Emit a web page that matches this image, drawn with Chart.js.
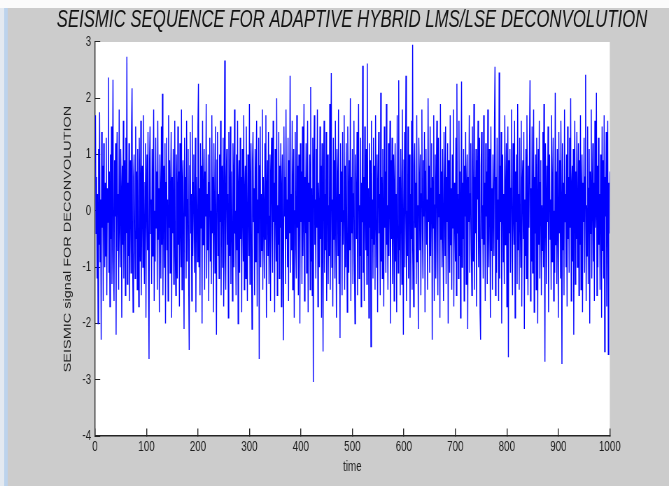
<!DOCTYPE html>
<html>
<head>
<meta charset="utf-8">
<script src="https://cdn.jsdelivr.net/npm/chart.js@4/dist/chart.umd.min.js"></script>
<style>
  html, body { margin: 0; padding: 0; background: #cccccc; overflow: hidden; }
  canvas { display: block; }
</style>
</head>
<body>
<!-- o canvas e desenhado mais largo e comprimido na horizontal (letras estreitas) -->
<canvas id="sismo" width="956" height="486" style="width:669px;height:486px"></canvas>
<script>
const titulo = 'SEISMIC SEQUENCE FOR ADAPTIVE HYBRID LMS/LSE DECONVOLUTION';
const rotuloX = 'time';
const rotuloY = 'SEISMIC signal FOR DECONVOLUTION';

const ticksX = [0, 100, 200, 300, 400, 500, 600, 700, 800, 900, 1000];
const ticksY = [3, 2, 1, 0, -1, -2, -3, -4];

// amostras 1..1000 do sinal sismico
const sinal = [
  1.7, -0.4, 0.6, -1.2, 0.3, -2.0, 1.1, -0.6, 1.75, -0.9, 0.2, -2.29, 1.4, -0.3, 0.8, -1.6, 1.2, 0.1, -1.0, 0.5,
  -0.8, 1.3, -1.5, 0.4, -0.2, 2.37, -1.1, 0.7, -1.7, 1.0, -0.5, 1.5, -1.3, 0.2, 2.33, -0.9, -1.6, 0.9, -0.1, 1.2,
  -2.2, 0.6, 1.4, -0.7, 0.3, -1.4, 1.8, -0.2, -1.0, 1.1, 0.4, -1.9, 0.8, -0.6, 1.6, -1.2, 0.1, 0.9, -1.5, 1.3,
  -0.4, 2.74, -1.3, 0.5, -0.8, 1.2, -1.6, 0.3, 0.9, -1.1, 1.4, 2.18, -0.7, -1.8, 0.6, 1.0, -0.3, -1.2, 1.5, -0.5,
  0.7, -1.4, 1.1, -0.2, -1.7, 1.3, 0.4, -0.9, 1.6, -1.5, 0.2, 0.8, -1.0, 1.7, -0.6, -1.3, 0.5, 1.2, -1.9, 0.3,
  1.0, -0.7, 1.4, -1.1, -2.63, 0.9, 1.5, -0.4, 0.2, -1.3, 1.1, -0.8, 0.6, 1.8, -1.6, 0.0, -0.9, 1.3, -0.3, 0.7,
  -1.4, 1.6, -0.5, 0.4, -1.8, 1.0, 0.3, -1.2, 1.5, -0.6, 2.08, -1.5, 0.1, 0.8, -1.0, 1.2, -2.0, 0.5, 1.3, -0.7,
  0.2, -1.6, 1.7, -0.3, 0.9, -1.1, 0.4, 1.4, -1.9, 0.6, -0.4, 1.1, -1.3, 0.0, 1.6, -0.8, -1.5, 1.0, 0.3, -1.2,
  1.5, -0.6, 0.7, -1.7, 1.2, -0.2, -1.0, 1.8, -1.4, 0.5, 0.9, -0.5, -2.1, 1.3, -0.1, 0.6, -1.2, 1.6, -0.9, 0.2,
  1.1, -1.3, -2.47, 0.8, 1.4, -0.4, 0.3, -1.6, 1.7, -0.8, 0.5, 1.0, -1.1, -0.2, 1.3, -1.8, 0.6, 0.1, -0.9, 1.5,
  2.26, -1.0, 0.4, -1.5, 1.2, -0.3, 0.8, -2.0, 1.6, -0.6, 0.2, 1.1, -1.4, 0.7, -0.1, 1.9, -1.2, 0.3, -0.7, 1.0,
  -1.6, 0.5, 1.3, -0.9, 0.0, -1.3, 1.7, -0.4, 0.6, -1.8, 1.2, 0.2, -1.1, 1.5, -0.5, -2.2, 0.9, 1.4, -0.8, 0.3,
  -1.2, 1.0, -0.2, 1.6, -1.5, 0.4, 0.8, -1.0, 1.3, -1.7, 0.1, 2.67, -0.9, -1.4, 0.6, 1.1, -0.6, 0.3, -1.9, 1.4,
  0.2, -0.8, 1.5, -1.3, 0.7, -0.1, -1.6, 1.2, 0.5, -1.0, 1.8, -0.4, 0.0, -1.5, 1.0, -0.7, 1.6, -2.0, 0.4, 0.9,
  -1.1, 1.3, -0.5, 0.6, -1.8, 1.1, 0.2, -0.9, 1.7, -1.4, 0.3, 0.8, -1.2, 1.5, -0.3, -1.6, 1.0, 0.1, -0.8, 1.9,
  -1.3, 0.5, 1.2, -0.6, -2.1, 0.9, 1.4, -0.2, 0.4, -1.5, 1.1, -0.9, 0.7, 1.6, -1.7, 0.2, -0.4, 1.3, -2.63, 0.8,
  1.5, -1.0, 0.3, -0.7, 1.8, -1.4, 0.6, 0.0, -1.2, 1.2, -0.5, 1.7, -1.9, 0.4, 0.9, -0.8, 1.4, -1.3, -0.1, 1.0,
  -1.6, 0.7, 1.3, -0.4, -1.1, 1.6, -0.2, 0.5, -1.8, 1.1, 0.3, -0.9, 2.0, -1.5, 0.1, -0.6, 1.4, -1.2, 0.8, -0.3,
  1.2, -1.7, 0.4, 1.0, -0.8, -2.3, 1.5, -0.1, 0.6, -1.3, 1.8, -0.5, 0.2, -1.0, 1.3, -1.6, 0.9, -0.4, 2.4, -1.1,
  0.3, -0.7, 1.6, -1.4, 0.5, 1.1, -1.9, 0.0, 1.4, -0.6, -1.2, 1.7, -0.3, 0.8, -1.5, 1.0, 0.4, -2.0, 1.2, -0.2,
  0.7, -1.3, 1.5, -0.8, 0.1, 1.9, -1.6, 0.6, -0.4, 1.2, -1.1, 0.3, 1.6, -1.8, 0.5, -0.2, 1.0, -1.4, 2.2, -0.9,
  0.4, -1.5, 1.3, -3.04, 0.9, 1.7, -0.6, 0.2, -1.2, 1.1, -0.3, 1.8, -1.7, 0.5, 0.0, -1.0, 1.5, -0.5, 0.8, -1.9,
  1.2, -0.4, -2.5, 0.7, 1.6, -1.1, 0.3, -0.7, 1.4, -1.6, 0.6, 1.0, -1.3, 0.1, -0.8, 1.9, -1.4, 0.4, 2.45, -1.0,
  0.2, -1.7, 1.3, -0.5, 0.9, -1.2, 1.6, -0.1, -1.9, 1.1, 0.5, -0.8, 1.8, -1.3, 0.3, -2.26, 1.2, -0.2, 0.7, -1.5,
  1.4, -0.6, 0.0, 1.7, -1.4, 0.8, -1.0, 1.2, -0.3, -1.8, 1.5, 0.4, -1.1, 0.9, -0.7, 2.0, -1.6, 0.6, -0.4, 1.1,
  -1.3, 0.3, 1.6, -0.9, -2.0, 1.0, 0.2, -0.5, 1.4, -1.5, 0.7, 1.9, -1.2, 0.1, -0.8, 1.3, -1.7, 0.5, -0.2, 2.58,
  -1.1, 0.6, -1.6, 1.5, 0.0, -0.7, 1.1, -1.3, 2.62, -0.8, 0.4, -1.9, 1.2, -0.3, 0.9, -2.41, 1.6, -0.5, 0.2, -1.2,
  1.3, -0.6, 0.8, -1.4, 1.7, -0.1, -1.0, 1.0, -1.8, 0.5, 1.4, -0.4, 0.3, -1.5, 2.1, -0.9, 0.6, -1.2, 1.1, -0.2,
  -1.7, 1.5, -0.3, 0.7, -1.1, 1.9, -0.6, 0.1, -1.4, 1.2, -0.8, 0.4, 1.6, -2.0, 0.9, -0.5, 1.3, -1.3, 0.0, 1.0,
  -1.6, 0.5, 1.2, -0.9, 0.3, -1.8, 1.7, -0.2, -1.1, 2.32, -0.7, 0.6, -1.5, 1.1, 0.2, -1.3, 1.8, -0.4, -2.2, 0.9,
  1.4, -1.0, 0.4, 2.4, -1.6, 0.0, -0.8, 1.5, -1.2, 0.7, 1.0, -1.9, 0.3, -0.5, 1.6, -1.4, 2.95, -0.6, -1.7, 0.8,
  1.2, -0.3, 0.5, -1.3, 1.7, -0.9, 0.1, -2.1, 1.3, 0.6, -0.7, 1.0, -1.5, 0.3, 1.8, -0.4, -1.2, 0.9, -0.1, 1.4,
  -1.8, 0.7, 1.1, -0.6, 0.2, -1.4, 2.0, -0.2, 0.8, -1.1, 1.5, -0.8, 0.4, 1.2, -2.29, 0.6, -0.3, 1.7, -1.6, 0.1,
  1.0, -1.2, 0.5, 1.6, -0.7, -1.5, 1.3, -0.1, 0.3, -1.9, 1.9, -0.5, 0.7, -1.0, 1.1, -0.4, -1.6, 1.4, 0.2, -0.8,
  1.5, -1.3, 0.6, -0.2, 1.2, -2.0, 0.9, 0.0, -1.1, 1.7, -0.6, 0.4, -1.4, 1.0, -0.3, 1.8, -1.7, 0.5, 0.1, -0.9,
  1.3, -1.5, 2.26, -0.4, 0.3, -1.2, 1.6, -0.8, 0.7, -1.9, 0.2, 2.3, -1.0, 0.5, -0.5, 1.1, -1.6, 0.8, -0.1, 1.4,
  -1.3, 0.4, 1.0, -2.1, 0.6, -0.2, 1.7, -1.1, 0.3, 1.2, -0.7, -1.5, 1.5, 0.0, -0.9, 1.9, -1.4, 0.6, -0.4, 1.1,
  -1.7, 0.9, 0.2, 1.6, -1.0, -0.3, 1.3, -1.8, -2.29, 0.8, 1.4, -0.5, 0.1, -1.2, 1.7, -0.6, 0.5, -1.6, 1.2, -0.1,
  0.7, -1.3, 1.8, -0.4, -1.0, 1.1, 0.3, -1.9, 1.5, -0.7, 0.4, -1.4, 1.0, 0.0, -0.8, 1.6, 2.56, -1.5, 0.6, -1.1,
  1.3, -0.5, 0.2, -1.6, 2.46, -1.2, 0.8, -0.2, 1.4, -2.0, 0.5, 1.0, -0.9, 0.3, -1.3, 1.7, -0.6, 0.1, 1.2, -1.7,
  0.6, 1.5, -2.6, 0.9, -0.4, 1.1, -1.1, 0.4, 1.8, -0.8, -1.5, 1.2, 0.0, -0.6, 1.6, -1.9, 0.7, -0.2, 1.0, -1.3,
  1.9, -0.7, 0.3, -1.4, 1.3, -0.1, -1.0, 1.6, -1.7, 0.5, 0.9, -0.5, 1.4, -2.1, 0.2, -0.8, 1.1, -1.2, 1.7, 0.1,
  -1.5, 0.8, -0.3, 1.2, 2.32, -1.6, 0.4, -0.9, 1.5, -1.1, 0.0, 1.8, -1.8, 0.6, -0.4, 1.0, -1.4, 1.3, 0.2, -2.0,
  1.1, -0.6, 1.6, -1.2, 0.5, 0.9, -1.5, 0.1, -0.7, 1.4, -1.0, 1.9, -0.3, -2.68, 1.2, 0.3, -1.3, 0.8, -0.2, 1.5,
  -1.8, 0.6, 1.0, -0.5, 0.2, -1.4, 1.7, -0.9, 0.4, 1.3, -1.6, 0.0, -1.1, 2.1, -0.6, 0.7, -1.3, 1.1, -0.1, -1.9,
  1.4, -0.4, 0.9, -1.2, 1.6, 0.1, -2.72, 1.2, -0.7, 0.5, -1.5, 1.8, -0.2, 0.3, -1.0, 1.0, -1.7, 1.5, -0.5, 0.6,
  -1.1, 1.3, -0.3, 2.0, -1.6, 0.4, 0.8, -0.9, 1.1, -2.2, 0.2, 1.6, -1.3, 0.7, -0.5, 1.4, -1.0, 0.0, 1.2, -1.5,
  0.9, -0.6, 1.7, -1.4, 0.3, 1.0, -1.8, 0.5, -0.2, 1.3, -1.1, 0.6, 2.42, -1.6, 0.1, -0.8, 1.5, -1.3, 0.4, 1.1,
  -2.0, 0.7, -0.4, 1.8, -1.2, 0.2, 1.2, -0.9, 0.5, -1.6, 1.6, -0.3, 0.0, 2.1, -1.5, 0.8, -1.0, 1.3, -0.6, 0.3,
  -1.4, 1.0, 0.4, -1.9, 1.5, -0.7, 0.9, -1.2, 1.7, -2.5, 0.6, -0.1, 1.4, -1.7, 0.2, 1.6, -2.55, 0.5, -0.4, 0.7
];

const largura = 956;            // largura logica do canvas
const areaEsq = 135.7, areaDir = 871.4, areaTopo = 42, areaBase = 436;
// faixa horizontal reservada ao titulo (centrado sobre os eixos)
const tituloEsq = 74.5, tituloDir = 931.5;

// fundo cinza da figura e area branca dos eixos
const fundo = {
  id: 'fundo',
  beforeDraw(chart) {
    const { ctx, chartArea: a, width, height } = chart;
    ctx.save();
    ctx.fillStyle = '#cccccc';
    ctx.fillRect(0, 0, width, height);
    ctx.fillStyle = '#fbfbfb';
    ctx.fillRect(0, 0, width, 8);
    ctx.fillStyle = '#e3e9f0';
    ctx.fillRect(0, 8, 6, height);
    ctx.fillStyle = '#bcd3ec';
    ctx.fillRect(6, 8, 5, height);
    ctx.fillStyle = '#ffffff';
    ctx.fillRect(a.left, a.top, a.right - a.left, a.bottom - a.top);
    ctx.restore();
  }
};

const fonte = "'Liberation Sans', Arial, sans-serif";

new Chart(document.getElementById('sismo'), {
  type: 'line',
  data: {
    datasets: [{
      data: sinal.map((v, i) => ({ x: i + 1, y: v })),
      borderColor: '#0000ff',
      borderWidth: 1.4,
      pointRadius: 0,
      tension: 0
    }]
  },
  options: {
    responsive: false,
    animation: false,
    events: [],
    layout: { padding: { top: 0, left: tituloEsq, right: largura - tituloDir, bottom: 10.6 } },
    plugins: {
      legend: { display: false },
      tooltip: { enabled: false },
      title: {
        display: true,
        text: titulo,
        color: '#111111',
        font: { family: fonte, size: 24, style: 'italic', weight: 'normal', lineHeight: 1.2 },
        padding: { top: 5.6, bottom: areaTopo - 5.6 - 28.8 }
      }
    },
    scales: {
      x: {
        type: 'linear',
        min: 0,
        max: 1000,
        afterBuildTicks: s => { s.ticks = ticksX.map(v => ({ value: v })); },
        afterFit: s => { s.height = 486 - areaBase - 10.6; },
        border: { display: true, color: '#262626', width: 1.4 },
        grid: { drawOnChartArea: false, drawTicks: true, tickLength: -7.5, color: '#262626', lineWidth: 1.4 },
        ticks: { color: '#1e1e1e', padding: 10, maxRotation: 0, font: { family: fonte, size: 14 }, callback: v => String(v) },
        title: { display: true, text: rotuloX, color: '#1e1e1e', padding: 0, font: { family: fonte, size: 14 } }
      },
      y: {
        min: -4,
        max: 3,
        afterBuildTicks: s => { s.ticks = ticksY.map(v => ({ value: v })); },
        afterFit: s => { s.width = areaEsq - tituloEsq; },
        border: { display: true, color: '#262626', width: 1.4 },
        grid: { drawOnChartArea: false, drawTicks: true, tickLength: -7.5, color: '#262626', lineWidth: 1 },
        ticks: { color: '#1e1e1e', padding: 13, font: { family: fonte, size: 14 }, callback: v => String(v) },
        title: { display: true, text: rotuloY, color: '#1e1e1e', padding: { top: 88.3 - tituloEsq, bottom: 0 }, font: { family: fonte, size: 14.5 } }
      },
      // eixo direito vazio: so reserva a margem cinza a direita dos eixos
      margemDir: {
        position: 'right',
        border: { display: false },
        grid: { display: false },
        ticks: { display: false },
        afterFit: s => { s.width = tituloDir - areaDir; }
      }
    }
  },
  plugins: [fundo]
});
</script>
</body>
</html>
